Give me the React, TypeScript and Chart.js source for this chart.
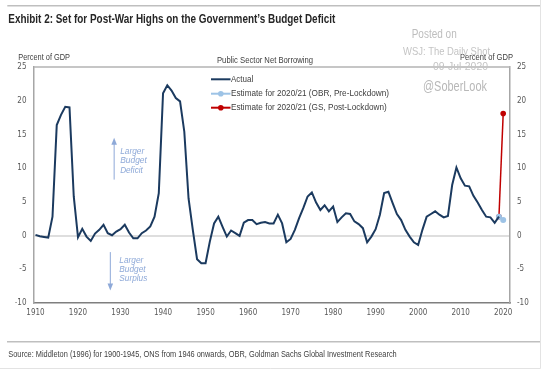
import React, { useEffect, useRef } from 'react';
import { Chart, registerables } from 'chart.js';

Chart.register(...registerables);

// ---------- data ----------
const startYear = 1910;
const actualValues = [
  0.1, -0.1, -0.2, -0.3, 2.8, 16.4, 17.9, 19.1, 19.0, 5.8, // 1910-1919
  -0.25, 1.0, -0.15, -0.8, 0.3, 0.85, 1.6, 0.35, 0.05, 0.6, // 1920-1929
  0.95, 1.6, 0.45, -0.4, -0.4, 0.35, 0.75, 1.35, 2.8, 6.3, // 1930-1939
  21.1, 22.3, 21.5, 20.4, 19.9, 15.4, 5.5, 0.85, -3.5, -4.1, // 1940-1949
  -4.1, -0.9, 1.8, 2.8, 1.3, -0.15, 0.75, 0.35, -0.05, 1.9, // 1950-1959
  2.3, 2.3, 1.7, 1.9, 2.0, 1.8, 1.8, 3.1, 1.8, -1.0, // 1960-1969
  -0.5, 0.85, 2.6, 4.1, 5.8, 6.4, 4.9, 3.8, 4.5, 3.6, // 1970-1979
  4.3, 2.0, 2.7, 3.3, 3.2, 2.1, 1.7, 1.1, -1.0, -0.15, // 1980-1989
  0.95, 3.1, 6.3, 6.5, 4.8, 3.2, 2.3, 0.85, -0.15, -1.0, // 1990-1999
  -1.4, 0.85, 2.8, 3.2, 3.6, 3.1, 2.7, 2.9, 7.5, 10.1, // 2000-2009
  8.5, 7.4, 7.3, 5.9, 4.9, 3.8, 2.8, 2.7, 1.9, 2.8, // 2010-2019
];
const actualYears = actualValues.map((_, i) => startYear + i);
const estimateYears = [2019, 2020];
const obrValues = [2.8, 2.3];
const gsValues = [2.8, 18.1];
const xTickYears = [1910, 1920, 1930, 1940, 1950, 1960, 1970, 1980, 1990, 2000, 2010, 2020];
const yTickValues = [-10, -5, 0, 5, 10, 15, 20, 25];

const seriesLabels = [
  'Actual',
  'Estimate for 2020/21 (OBR, Pre-Lockdown)',
  'Estimate for 2020/21 (GS, Post-Lockdown)',
];
const titleText = 'Exhibit 2: Set for Post-War Highs on the Government\u2019s Budget Deficit';
const chartTitle = 'Public Sector Net Borrowing';
const axisUnit = 'Percent of GDP';
const sourceText =
  'Source: Middleton (1996) for 1900-1945, ONS from 1946 onwards, OBR, Goldman Sachs Global Investment Research';
const watermark = ['Posted on', 'WSJ: The Daily Shot', '09-Jul-2020'];
const handle = '@SoberLook';
const deficitNote = ['Larger', 'Budget', 'Deficit'];
const surplusNote = ['Larger', 'Budget', 'Surplus'];

// ---------- styles ----------
const NAVY = '#1b3a5f';
const LIGHT_BLUE = '#9dc3e6';
const RED = '#c00000';
const NOTE = '#8ea9d8';
const SANS = '"Liberation Sans", Arial, sans-serif';

function hasFont(name: string): boolean {
  const c = document.createElement('canvas').getContext('2d')!;
  const probe = 'mmmwwwiii1910lLQ';
  c.font = '30px monospace';
  const a = c.measureText(probe).width;
  c.font = `30px "${name}", monospace`;
  return Math.abs(c.measureText(probe).width - a) > 0.5;
}

function fitText(
  ctx: CanvasRenderingContext2D,
  text: string,
  x: number,
  y: number,
  width: number,
  font: string,
  color: string
) {
  ctx.save();
  ctx.font = font;
  ctx.fillStyle = color;
  ctx.textBaseline = 'middle';
  ctx.textAlign = 'left';
  const w = ctx.measureText(text).width;
  ctx.translate(x, y);
  ctx.scale(width / w, 1);
  ctx.fillText(text, 0, 0);
  ctx.restore();
}

function hLine(ctx: CanvasRenderingContext2D, x1: number, x2: number, y: number, color: string, w: number) {
  ctx.save();
  ctx.strokeStyle = color;
  ctx.lineWidth = w;
  ctx.beginPath();
  ctx.moveTo(x1, y);
  ctx.lineTo(x2, y);
  ctx.stroke();
  ctx.restore();
}

function arrow(ctx: CanvasRenderingContext2D, x: number, yTail: number, yHead: number, color: string) {
  const dir = yHead < yTail ? -1 : 1;
  ctx.save();
  ctx.strokeStyle = color;
  ctx.fillStyle = color;
  ctx.lineWidth = 1;
  ctx.beginPath();
  ctx.moveTo(x, yTail);
  ctx.lineTo(x, yHead - dir * 5);
  ctx.stroke();
  ctx.beginPath();
  ctx.moveTo(x, yHead);
  ctx.lineTo(x - 2.8, yHead - dir * 7);
  ctx.lineTo(x + 2.8, yHead - dir * 7);
  ctx.closePath();
  ctx.fill();
  ctx.restore();
}

const decorPlugin = {
  id: 'decor',
  beforeDraw(chart: any) {
    const ctx: CanvasRenderingContext2D = chart.ctx;
    ctx.save();
    ctx.fillStyle = '#ffffff';
    ctx.fillRect(0, 0, chart.width, chart.height);
    ctx.restore();
  },
  afterDraw(chart: any) {
    const ctx: CanvasRenderingContext2D = chart.ctx;
    const area = chart.chartArea;
    const xs = chart.scales.x;
    const ys = chart.scales.y;

    // frame lines
    hLine(ctx, 7.3, 540, 5.7, '#bfbfbf', 1.5);
    hLine(ctx, 7, 540, 341.7, '#bfbfbf', 1.5);
    ctx.save();
    ctx.strokeStyle = '#e3e3e3';
    ctx.lineWidth = 1;
    ctx.beginPath();
    ctx.moveTo(540.5, 0);
    ctx.lineTo(540.5, 368.5);
    ctx.lineTo(0, 368.5);
    ctx.stroke();
    ctx.restore();
    // top border of plot box
    hLine(ctx, area.left, area.right, area.top, '#b3b3b3', 1.5);

    // texts
    fitText(ctx, titleText, 8.3, 19.6, 327, `bold 13px ${SANS}`, '#262626');
    fitText(ctx, sourceText, 8.3, 354.3, 388.4, `9.5px ${SANS}`, '#404040');
    fitText(ctx, chartTitle, 217, 60, 96, `9.5px ${SANS}`, '#404040');
    fitText(ctx, axisUnit, 18.3, 57, 51.7, `9.5px ${SANS}`, '#404040');
    fitText(ctx, axisUnit, 460, 57, 53, `9.5px ${SANS}`, '#404040');

    // legend
    const legendY = [79.3, 93.7, 107.7];
    const legendW = [22.3, 158, 155.7];
    chart.data.datasets.forEach((ds: any, i: number) => {
      const y = legendY[i];
      ctx.save();
      ctx.strokeStyle = ds.borderColor;
      ctx.lineWidth = 2;
      ctx.beginPath();
      ctx.moveTo(211, y);
      ctx.lineTo(230.5, y);
      ctx.stroke();
      if (ds.pointRadius > 0) {
        ctx.fillStyle = ds.borderColor;
        ctx.beginPath();
        ctx.arc(220.8, y, 2.8, 0, Math.PI * 2);
        ctx.fill();
      }
      ctx.restore();
      fitText(ctx, ds.label, 231, y, legendW[i], `9.5px ${SANS}`, '#404040');
    });

    // annotations (positioned from the scales)
    const upX = xs.getPixelForValue(1928.5);
    arrow(ctx, upX, ys.getPixelForValue(8.3), ys.getPixelForValue(14.5), NOTE);
    const noteFont = `italic 9.5px ${SANS}`;
    const dW = [24, 26.7, 22.7];
    deficitNote.forEach((t, i) => {
      fitText(ctx, t, upX + 6, [151, 160.7, 170][i], dW[i], noteFont, NOTE);
    });
    const downX = xs.getPixelForValue(1927.6);
    arrow(ctx, downX, ys.getPixelForValue(-2.45), ys.getPixelForValue(-8.15), NOTE);
    const sW = [24, 26.3, 28];
    surplusNote.forEach((t, i) => {
      fitText(ctx, t, downX + 9, [260, 269.3, 278.7][i], sW[i], noteFont, NOTE);
    });

    // watermark
    fitText(ctx, watermark[0], 411.7, 35, 45, `12px ${SANS}`, '#bdbdbd');
    fitText(ctx, watermark[1], 403, 51.7, 87, `11px ${SANS}`, '#c4c4c4');
    fitText(ctx, watermark[2], 433, 66.7, 55, `11px ${SANS}`, '#c4c4c4');
    fitText(ctx, handle, 423, 87.3, 64, `14px ${SANS}`, '#b8b8b8');
  },
};

export default function App() {
  const canvasRef = useRef<HTMLCanvasElement | null>(null);

  useEffect(() => {
    const canvas = canvasRef.current;
    if (!canvas) return;

    // pick a narrow face for tick labels if one is installed, and size it to the reference width
    const family = hasFont('Liberation Sans Narrow')
      ? '"Liberation Sans Narrow"'
      : hasFont('DejaVu Sans Condensed')
      ? '"DejaVu Sans Condensed"'
      : '"Liberation Sans"';
    const m = document.createElement('canvas').getContext('2d')!;
    m.font = `10px ${family}`;
    const tickSize = Math.round(((10 * 18.6) / m.measureText('1910').width) * 2) / 2;
    const tickFont = { family: `${family}, sans-serif`, size: tickSize };

    const chart = new Chart(canvas, {
      type: 'line',
      data: {
        datasets: [
          {
            label: seriesLabels[0],
            data: actualYears.map((yr, i) => ({ x: yr, y: actualValues[i] })),
            borderColor: NAVY,
            backgroundColor: NAVY,
            borderWidth: 2,
            pointRadius: 0,
            tension: 0,
          },
          {
            label: seriesLabels[1],
            data: estimateYears.map((yr, i) => ({ x: yr, y: obrValues[i] })),
            borderColor: LIGHT_BLUE,
            backgroundColor: LIGHT_BLUE,
            borderWidth: 1.5,
            pointRadius: 3,
            pointBorderWidth: 0,
            tension: 0,
          },
          {
            label: seriesLabels[2],
            data: estimateYears.map((yr, i) => ({ x: yr, y: gsValues[i] })),
            borderColor: RED,
            backgroundColor: RED,
            borderWidth: 1.5,
            pointRadius: 2.8,
            pointBorderWidth: 0,
            tension: 0,
          },
        ],
      },
      options: {
        responsive: false,
        maintainAspectRatio: false,
        animation: false,
        events: [],
        layout: { padding: { top: 67, left: 0, right: 0, bottom: 0 } },
        plugins: {
          legend: { display: false },
          tooltip: { enabled: false },
          title: { display: false },
        },
        scales: {
          x: {
            type: 'linear',
            min: 1909.65,
            max: 2021.6,
            afterBuildTicks: (scale: any) => {
              scale.ticks = xTickYears.map((v) => ({ value: v }));
            },
            afterFit: (scale: any) => {
              scale.height = 66;
            },
            grid: { display: false, drawTicks: false },
            border: { display: true, color: '#7f7f7f', width: 1.5 },
            ticks: {
              autoSkip: false,
              maxRotation: 0,
              padding: 5,
              color: '#595959',
              font: tickFont,
              callback: (v: any) => String(v),
            },
          },
          y: {
            position: 'left',
            min: -10,
            max: 25,
            afterBuildTicks: (scale: any) => {
              scale.ticks = yTickValues.map((v) => ({ value: v }));
            },
            afterFit: (scale: any) => {
              scale.width = 34;
            },
            grid: {
              drawTicks: false,
              color: (c: any) => (c.tick && c.tick.value === 0 ? '#dedede' : 'rgba(0,0,0,0)'),
              lineWidth: 2,
            },
            border: { display: true, color: '#a6a6a6', width: 1.5 },
            ticks: { padding: 7.5, color: '#595959', font: tickFont },
          },
          y2: {
            position: 'right',
            min: -10,
            max: 25,
            afterBuildTicks: (scale: any) => {
              scale.ticks = yTickValues.map((v) => ({ value: v }));
            },
            afterFit: (scale: any) => {
              scale.width = 31;
            },
            grid: { display: false, drawTicks: false },
            border: { display: true, color: '#a6a6a6', width: 1.5 },
            ticks: { padding: 7, color: '#595959', font: tickFont },
          },
        },
      },
      plugins: [decorPlugin],
    } as any);

    return () => chart.destroy();
  }, []);

  return (
    <div style={{ position: 'absolute', left: 0, top: 0, width: 541, height: 369, background: '#fff' }}>
      <canvas ref={canvasRef} width={541} height={369} style={{ display: 'block', width: 541, height: 369 }} />
    </div>
  );
}
